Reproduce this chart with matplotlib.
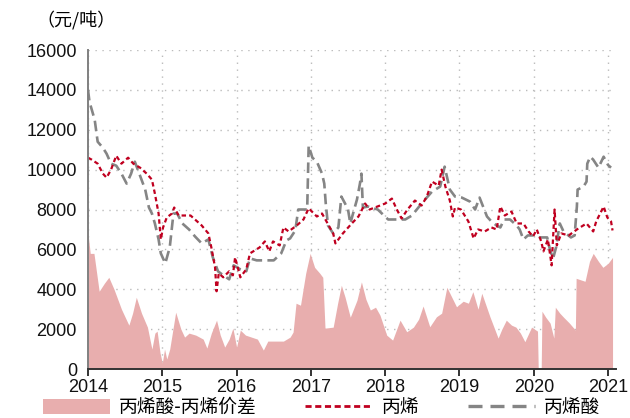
import matplotlib.pyplot as plt
from matplotlib.patches import Patch
from matplotlib.lines import Line2D

plt.rcParams['font.family'] = ['Liberation Sans', 'Noto Sans CJK SC', 'DejaVu Sans']

# 丙烯酸 (acrylic acid), 元/吨, x in decimal years
acid_t = [2014.00, 2014.02, 2014.09, 2014.13, 2014.20, 2014.25, 2014.31, 2014.38, 2014.45, 2014.52,
          2014.58, 2014.63, 2014.70, 2014.77, 2014.82, 2014.86, 2014.90, 2014.95, 2014.98, 2015.04,
          2015.10, 2015.15, 2015.20, 2015.27, 2015.36, 2015.44, 2015.53, 2015.62, 2015.68, 2015.75,
          2015.82, 2015.90, 2015.96, 2016.05, 2016.13, 2016.18, 2016.27, 2016.40, 2016.50, 2016.60,
          2016.67, 2016.72, 2016.79, 2016.83, 2016.90, 2016.95, 2016.97, 2017.02, 2017.08, 2017.15,
          2017.18, 2017.20, 2017.23, 2017.30, 2017.37, 2017.41, 2017.46, 2017.50, 2017.53, 2017.62,
          2017.66, 2017.68, 2017.70, 2017.77, 2017.90, 2018.04, 2018.15, 2018.27, 2018.36, 2018.49,
          2018.63, 2018.74, 2018.80, 2018.84, 2018.87, 2018.94, 2019.03, 2019.14, 2019.21, 2019.27,
          2019.37, 2019.43, 2019.50, 2019.55, 2019.60, 2019.68, 2019.77, 2019.81, 2019.86, 2019.92,
          2020.00, 2020.06, 2020.12, 2020.18, 2020.22, 2020.26, 2020.30, 2020.35, 2020.40, 2020.50,
          2020.55, 2020.58, 2020.59, 2020.67, 2020.71, 2020.72, 2020.76, 2020.80, 2020.87, 2020.94,
          2021.00, 2021.04]
acid = [14000, 13400, 12500, 11400, 11100, 10800, 10300, 10200, 9800, 9300,
        9800, 10400, 9700, 9000, 8100, 7800, 7300, 6500, 5800, 5300,
        6100, 7800, 7800, 7300, 7000, 6650, 6300, 6500, 5600, 4900,
        4700, 4500, 5200, 5000, 4900, 5550, 5450, 5450, 5450, 5800,
        6450, 6550, 6950, 8000, 8000, 8000, 11200, 10600, 10400, 9800,
        9300, 8300, 7200, 6800, 7100, 8650, 8300, 8000, 7300, 8500,
        9300, 9800, 8100, 8150, 8000, 7500, 7500, 7500, 7700, 8300,
        8900, 9150, 10150, 9500, 9000, 8650, 8600, 8400, 8000, 8600,
        7650, 7400, 7200, 7100, 7500, 7500, 7200, 7000, 6500, 6700,
        6700, 6600, 6600, 6600, 5950, 5550, 6100, 7300, 6900, 6600,
        6700, 8150, 9000, 9150, 9400, 10300, 10650, 10500, 10100, 10650,
        10230, 10100]

# 丙烯 (propylene)
prop_t = [2014.00, 2014.05, 2014.13, 2014.20, 2014.25, 2014.31, 2014.38, 2014.45, 2014.54, 2014.61,
          2014.70, 2014.79, 2014.86, 2014.90, 2014.95, 2014.98, 2015.01, 2015.06, 2015.13, 2015.16,
          2015.22, 2015.30, 2015.38, 2015.44, 2015.53, 2015.62, 2015.66, 2015.71, 2015.73, 2015.76,
          2015.82, 2015.90, 2015.95, 2015.98, 2016.05, 2016.13, 2016.18, 2016.31, 2016.38, 2016.44,
          2016.49, 2016.58, 2016.63, 2016.70, 2016.81, 2016.90, 2016.97, 2017.08, 2017.15, 2017.21,
          2017.30, 2017.33, 2017.43, 2017.55, 2017.64, 2017.73, 2017.79, 2017.86, 2018.00, 2018.09,
          2018.15, 2018.22, 2018.30, 2018.40, 2018.49, 2018.56, 2018.63, 2018.72, 2018.76, 2018.81,
          2018.87, 2018.91, 2018.94, 2019.02, 2019.12, 2019.19, 2019.25, 2019.34, 2019.43, 2019.50,
          2019.55, 2019.61, 2019.70, 2019.77, 2019.86, 2019.93, 2019.99, 2020.04, 2020.10, 2020.13,
          2020.19, 2020.24, 2020.28, 2020.31, 2020.37, 2020.47, 2020.60, 2020.71, 2020.80, 2020.84,
          2020.94, 2020.99, 2021.04, 2021.06]
prop = [10600, 10500, 10300, 9800, 9600, 10000, 10700, 10300, 10600, 10300,
        10100, 9800, 9500, 8800, 7800, 6500, 7100, 7600, 7800, 8100,
        7700, 7700, 7700, 7500, 7200, 6800, 6100, 5100, 3900, 4800,
        4600, 4900, 4700, 5600, 4600, 5000, 5800, 6100, 6400, 5900,
        6400, 6200, 7100, 6900, 7200, 7500, 8060, 7650, 7800, 7400,
        6800, 6300, 6800, 7300, 7650, 8300, 8000, 8100, 8300, 8550,
        8050, 7550, 8000, 8450, 8200, 8650, 9400, 9200, 10000, 9150,
        8450, 7650, 8100, 8000, 7400, 6550, 7000, 6900, 7100, 7000,
        8150, 7700, 7900, 7300, 7300, 6900, 6650, 7000, 6400, 5900,
        6500, 5200, 8000, 6200, 6800, 6700, 7050, 7300, 6900, 7400,
        8150, 7600, 7400, 6950]

# 丙烯酸-丙烯价差 (spread)
spread_t = [2014.00, 2014.03, 2014.08, 2014.15, 2014.22, 2014.28, 2014.35, 2014.45, 2014.55, 2014.60,
            2014.65, 2014.72, 2014.80, 2014.86, 2014.90, 2014.93, 2014.97, 2015.00, 2015.03, 2015.06,
            2015.10, 2015.18, 2015.25, 2015.30, 2015.36, 2015.45, 2015.55, 2015.60, 2015.66, 2015.73,
            2015.78, 2015.84, 2015.90, 2015.95, 2016.00, 2016.05, 2016.12, 2016.20, 2016.28, 2016.36,
            2016.42, 2016.50, 2016.63, 2016.72, 2016.76, 2016.80, 2016.86, 2016.93, 2016.99, 2017.05,
            2017.12, 2017.16, 2017.19, 2017.30, 2017.36, 2017.41, 2017.46, 2017.53, 2017.62, 2017.68,
            2017.74, 2017.80, 2017.87, 2017.93, 2018.02, 2018.10, 2018.20, 2018.29, 2018.38, 2018.45,
            2018.51, 2018.60, 2018.69, 2018.76, 2018.83, 2018.87, 2018.96, 2019.05, 2019.12, 2019.18,
            2019.25, 2019.30, 2019.41, 2019.52, 2019.57, 2019.63, 2019.70, 2019.76, 2019.82, 2019.88,
            2019.97, 2020.05, 2020.06, 2020.10, 2020.11, 2020.16, 2020.22, 2020.27, 2020.29, 2020.35,
            2020.40, 2020.48, 2020.56, 2020.57, 2020.69, 2020.75, 2020.80, 2020.87, 2020.93, 2021.00,
            2021.06]
spread = [6800, 5800, 5800, 3900, 4300, 4600, 4000, 3000, 2200, 2800,
          3600, 2800, 2100, 1000, 1800, 1900, 800, 300, 1000, 500,
          1000, 2850, 2000, 1600, 1800, 1700, 1500, 1050, 1800, 2450,
          1700, 1100, 1500, 2050, 1100, 1950, 1700, 1600, 1500, 950,
          1400, 1400, 1400, 1600, 1850, 3300, 3200, 4800, 5800, 5100,
          4800, 4600, 2050, 2100, 3300, 4200, 3600, 2600, 3450, 4370,
          3500, 2960, 3100, 2700, 1700, 1450, 2450, 1870, 2100, 2500,
          3160, 2120, 2620, 2800, 4100, 3800, 3120, 3400, 3300, 3880,
          3000, 3800, 2620, 1550, 2000, 2450, 2200, 2100, 1800, 1370,
          2100, 1900, 0, 0, 2900, 2600, 2300, 1550, 3100, 2800,
          2600, 2300, 1950, 4550, 4400, 5400, 5800, 5400, 5100, 5300,
          5600]

years = [2014, 2015, 2016, 2017, 2018, 2019, 2020, 2021]
yticks = [0, 2000, 4000, 6000, 8000, 10000, 12000, 14000, 16000]

fill_color = '#E8AEAE'
red = '#C00020'
grey = '#858585'
cjk = ['Noto Sans CJK SC', 'DejaVu Sans']

fig = plt.figure(figsize=(6.3, 4.18), dpi=100)
ax = fig.add_axes([0.1397, 0.1172, 0.8373, 0.7631])

ax.fill_between(spread_t, spread, 0, color=fill_color, linewidth=0)
ax.plot(acid_t, acid, color=grey, linewidth=1.9, dashes=(4, 2))
ax.plot(prop_t, prop, color=red, linewidth=1.6, dashes=(2, 1.4))

ax.set_xlim(2014, 2021.1)
ax.set_ylim(0, 16000)
ax.set_xticks(years)
ax.set_xticklabels([str(y) for y in years])
ax.set_yticks(yticks)
ax.set_axisbelow(True)
ax.grid(True, linestyle=(0, (1, 4)), color='#BBBBBB', linewidth=1)

for s in ['top', 'right']:
    ax.spines[s].set_visible(False)
ax.spines['left'].set_color('#808080')
ax.spines['left'].set_linewidth(1.4)
ax.spines['bottom'].set_color('#333333')
ax.spines['bottom'].set_linewidth(1.4)
ax.tick_params(axis='y', length=0, labelsize=13, pad=8, colors='#111111')
ax.tick_params(axis='x', length=5, width=1.2, labelsize=13, pad=2, colors='#111111')

fig.text(0.058, 0.952, '（元/吨）', fontsize=13, va='center', ha='left', family=cjk)

handles = [Patch(facecolor=fill_color, edgecolor='none'),
           Line2D([], [], color=red, linewidth=2, dashes=(2.2, 1.3)),
           Line2D([], [], color=grey, linewidth=2.4, dashes=(4.2, 2.4))]
labels = ['丙烯酸-丙烯价差', '丙烯', '丙烯酸']
fig.legend(handles, labels, loc='lower center', bbox_to_anchor=(0.51, -0.018), ncol=3,
           frameon=False, handlelength=3.6, handleheight=0.8, columnspacing=2.6,
           handletextpad=0.45, borderaxespad=0, prop={'family': cjk, 'size': 13.5})

fig.savefig('out.png', dpi=100)
